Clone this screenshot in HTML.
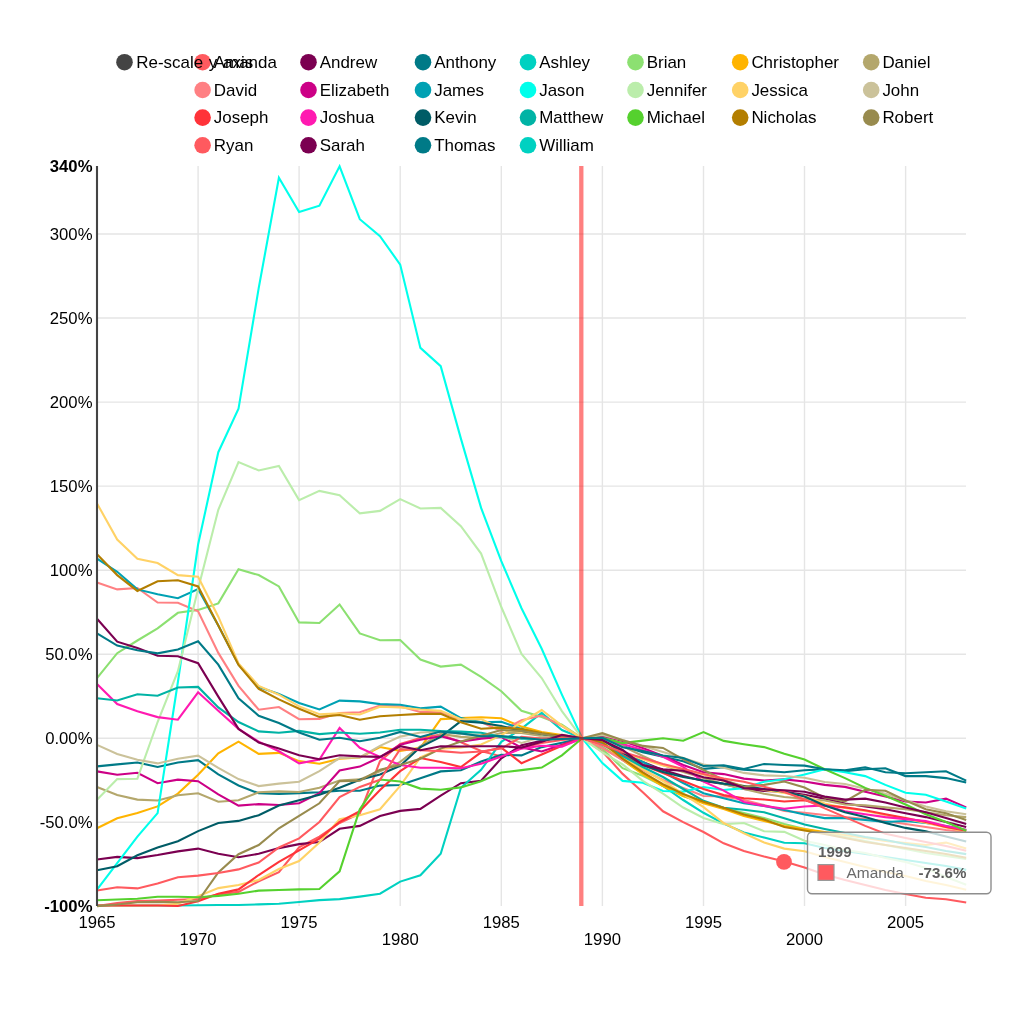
<!DOCTYPE html>
<html><head><meta charset="utf-8"><title>Birth names trend</title>
<style>
html,body{margin:0;padding:0;background:#fff;}
body{width:1024px;height:1024px;overflow:hidden;font-family:"Liberation Sans", Arial, Helvetica, sans-serif;}
svg{display:block;}
svg text{font-family:"Liberation Sans", Arial, Helvetica, sans-serif;}
.ln{fill:none;stroke-width:2.1;stroke-linejoin:miter;stroke-linecap:butt;}
.grid line{stroke:#e5e5e5;stroke-width:1.4;}
.ax text{font-size:16.7px;fill:#000;}
.leg text{font-size:16.95px;fill:#000;}
</style></head><body>
<svg width="1024" height="1024" viewBox="0 0 1024 1024">
<rect width="1024" height="1024" fill="#fff"/>
<g class="grid">
<line x1="198.1" y1="166.1" x2="198.1" y2="906"/>
<line x1="299.1" y1="166.1" x2="299.1" y2="906"/>
<line x1="400.2" y1="166.1" x2="400.2" y2="906"/>
<line x1="501.3" y1="166.1" x2="501.3" y2="906"/>
<line x1="602.4" y1="166.1" x2="602.4" y2="906"/>
<line x1="703.5" y1="166.1" x2="703.5" y2="906"/>
<line x1="804.5" y1="166.1" x2="804.5" y2="906"/>
<line x1="905.6" y1="166.1" x2="905.6" y2="906"/>
<line x1="97" y1="234.0" x2="966" y2="234.0"/>
<line x1="97" y1="318.0" x2="966" y2="318.0"/>
<line x1="97" y1="402.1" x2="966" y2="402.1"/>
<line x1="97" y1="486.1" x2="966" y2="486.1"/>
<line x1="97" y1="570.2" x2="966" y2="570.2"/>
<line x1="97" y1="654.2" x2="966" y2="654.2"/>
<line x1="97" y1="738.3" x2="966" y2="738.3"/>
<line x1="97" y1="822.3" x2="966" y2="822.3"/>
</g>
<g class="lines">
<polyline class="ln" stroke="#ff5a5f" points="97.0,906.0 117.2,903.0 137.4,901.1 157.6,900.6 177.9,899.8 198.1,899.0 218.3,894.4 238.5,891.9 258.7,881.2 278.9,872.2 299.1,847.4 319.4,836.6 339.6,823.0 359.8,813.4 380.0,761.1 400.2,743.9 420.4,738.0 440.7,734.5 460.9,742.2 481.1,750.9 501.3,756.4 521.5,748.0 541.7,743.0 561.9,740.0 582.2,738.3 602.4,751.5 622.6,773.9 642.8,792.3 663.0,811.3 683.2,822.1 703.5,832.0 723.7,843.3 743.9,850.9 764.1,856.6 784.3,861.6 804.5,867.6 824.7,874.5 845.0,880.0 865.2,885.0 885.4,890.0 905.6,894.0 925.8,897.8 946.0,899.2 966.2,902.5"/>
<polyline class="ln" stroke="#7b0051" points="97.0,859.5 117.2,856.9 137.4,858.1 157.6,855.0 177.9,851.4 198.1,848.6 218.3,853.8 238.5,857.2 258.7,853.8 278.9,848.1 299.1,844.1 319.4,842.1 339.6,828.8 359.8,825.9 380.0,816.1 400.2,810.9 420.4,808.9 440.7,795.6 460.9,783.2 481.1,780.8 501.3,758.4 521.5,745.2 541.7,740.8 561.9,737.5 582.2,738.3 602.4,741.0 622.6,753.0 642.8,762.0 663.0,770.0 683.2,776.0 703.5,781.0 723.7,784.0 743.9,789.0 764.1,791.0 784.3,791.8 804.5,794.7 824.7,798.6 845.0,803.5 865.2,806.4 885.4,809.3 905.6,813.2 925.8,817.1 946.0,822.0 966.2,826.9"/>
<polyline class="ln" stroke="#007a87" points="97.0,766.4 117.2,764.4 137.4,762.5 157.6,767.0 177.9,762.5 198.1,760.1 218.3,774.4 238.5,785.5 258.7,793.3 278.9,793.9 299.1,793.1 319.4,792.3 339.6,790.8 359.8,790.8 380.0,785.6 400.2,785.0 420.4,778.3 440.7,771.4 460.9,770.3 481.1,761.5 501.3,754.9 521.5,755.4 541.7,747.1 561.9,742.7 582.2,738.3 602.4,737.0 622.6,746.0 642.8,752.3 663.0,756.7 683.2,761.2 703.5,768.9 723.7,767.1 743.9,769.7 764.1,770.9 784.3,772.2 804.5,770.3 824.7,769.3 845.0,771.2 865.2,769.3 885.4,768.3 905.6,776.1 925.8,776.1 946.0,778.1 966.2,782.6"/>
<polyline class="ln" stroke="#00d1c1" points="97.0,905.5 117.2,905.5 137.4,905.5 157.6,905.5 177.9,905.5 198.1,905.2 218.3,905.0 238.5,905.0 258.7,904.4 278.9,903.8 299.1,902.0 319.4,900.1 339.6,899.1 359.8,896.6 380.0,893.7 400.2,881.6 420.4,875.3 440.7,853.8 460.9,787.8 481.1,769.9 501.3,741.8 521.5,728.6 541.7,712.9 561.9,730.0 582.2,738.3 602.4,746.0 622.6,760.0 642.8,773.0 663.0,786.0 683.2,800.0 703.5,812.8 723.7,823.6 743.9,832.5 764.1,837.6 784.3,842.7 804.5,843.3 824.7,848.0 845.0,851.0 865.2,854.0 885.4,857.0 905.6,860.0 925.8,863.0 946.0,866.0 966.2,869.9"/>
<polyline class="ln" stroke="#8ce071" points="97.0,678.2 117.2,653.2 137.4,640.5 157.6,628.4 177.9,612.8 198.1,609.9 218.3,603.4 238.5,569.3 258.7,575.1 278.9,586.4 299.1,622.4 319.4,623.0 339.6,604.5 359.8,633.4 380.0,640.2 400.2,640.0 420.4,659.5 440.7,666.6 460.9,664.6 481.1,676.8 501.3,691.2 521.5,710.7 541.7,717.1 561.9,724.7 582.2,738.3 602.4,749.1 622.6,768.2 642.8,775.8 663.0,785.9 683.2,796.1 703.5,802.4 723.7,808.0 743.9,813.0 764.1,818.0 784.3,824.0 804.5,829.0 824.7,833.0 845.0,837.0 865.2,841.0 885.4,845.0 905.6,849.0 925.8,853.0 946.0,856.0 966.2,859.0"/>
<polyline class="ln" stroke="#ffb400" points="97.0,828.3 117.2,818.3 137.4,813.1 157.6,806.4 177.9,793.6 198.1,774.8 218.3,753.3 238.5,741.6 258.7,753.9 278.9,752.9 299.1,761.1 319.4,763.8 339.6,758.8 359.8,757.5 380.0,747.0 400.2,750.9 420.4,747.8 440.7,719.1 460.9,718.1 481.1,717.2 501.3,718.3 521.5,726.6 541.7,732.0 561.9,735.0 582.2,738.3 602.4,744.0 622.6,760.0 642.8,774.0 663.0,786.0 683.2,796.0 703.5,803.3 723.7,809.0 743.9,816.0 764.1,821.0 784.3,826.0 804.5,829.0 824.7,832.0 845.0,835.0 865.2,838.0 885.4,841.0 905.6,843.0 925.8,845.0 946.0,842.6 966.2,848.6"/>
<polyline class="ln" stroke="#b4a76c" points="97.0,787.1 117.2,794.9 137.4,799.6 157.6,800.5 177.9,795.3 198.1,793.3 218.3,801.7 238.5,800.2 258.7,792.3 278.9,791.4 299.1,792.0 319.4,787.7 339.6,780.6 359.8,779.4 380.0,771.2 400.2,761.9 420.4,746.2 440.7,733.9 460.9,736.9 481.1,738.0 501.3,733.0 521.5,733.0 541.7,736.0 561.9,737.5 582.2,738.3 602.4,738.0 622.6,746.0 642.8,756.0 663.0,765.0 683.2,772.0 703.5,778.0 723.7,784.3 743.9,789.0 764.1,793.8 784.3,797.0 804.5,798.8 824.7,800.5 845.0,804.5 865.2,805.4 885.4,807.4 905.6,809.3 925.8,812.3 946.0,815.2 966.2,817.1"/>
<polyline class="ln" stroke="#ff8083" points="97.0,582.5 117.2,589.4 137.4,588.0 157.6,602.5 177.9,602.7 198.1,611.2 218.3,652.9 238.5,685.9 258.7,709.7 278.9,707.0 299.1,719.2 319.4,718.9 339.6,713.1 359.8,712.3 380.0,705.6 400.2,706.4 420.4,711.9 440.7,712.3 460.9,719.3 481.1,722.0 501.3,731.0 521.5,720.3 541.7,715.6 561.9,726.1 582.2,738.3 602.4,748.0 622.6,760.0 642.8,770.0 663.0,780.0 683.2,788.0 703.5,796.0 723.7,796.5 743.9,800.0 764.1,805.0 784.3,811.0 804.5,812.7 824.7,815.0 845.0,817.0 865.2,819.0 885.4,821.0 905.6,824.0 925.8,827.0 946.0,830.0 966.2,832.0"/>
<polyline class="ln" stroke="#cc0086" points="97.0,771.4 117.2,774.8 137.4,772.8 157.6,783.2 177.9,779.6 198.1,781.2 218.3,794.3 238.5,805.6 258.7,804.1 278.9,805.0 299.1,803.3 319.4,793.1 339.6,770.5 359.8,766.6 380.0,757.2 400.2,744.7 420.4,739.7 440.7,736.3 460.9,741.6 481.1,738.6 501.3,737.0 521.5,747.6 541.7,751.5 561.9,744.7 582.2,738.3 602.4,736.0 622.6,741.0 642.8,748.0 663.0,756.0 683.2,765.0 703.5,772.2 723.7,774.1 743.9,778.6 764.1,780.5 784.3,779.4 804.5,781.5 824.7,784.9 845.0,786.9 865.2,791.8 885.4,796.6 905.6,801.5 925.8,802.5 946.0,798.6 966.2,807.4"/>
<polyline class="ln" stroke="#00a1b3" points="97.0,558.7 117.2,571.8 137.4,589.4 157.6,594.3 177.9,598.2 198.1,589.0 218.3,625.5 238.5,664.4 258.7,686.9 278.9,693.9 299.1,703.0 319.4,709.5 339.6,700.6 359.8,701.4 380.0,704.1 400.2,704.8 420.4,708.4 440.7,706.6 460.9,718.1 481.1,722.2 501.3,721.7 521.5,729.0 541.7,734.0 561.9,737.0 582.2,738.3 602.4,742.0 622.6,752.0 642.8,762.0 663.0,772.0 683.2,783.0 703.5,793.2 723.7,798.2 743.9,803.3 764.1,805.9 784.3,810.0 804.5,814.5 824.7,818.1 845.0,818.1 865.2,820.0 885.4,822.0 905.6,821.0 925.8,823.0 946.0,826.0 966.2,830.0"/>
<polyline class="ln" stroke="#00ffeb" points="97.0,889.7 117.2,863.1 137.4,836.6 157.6,813.1 177.9,682.0 198.1,544.5 218.3,452.2 238.5,408.8 258.7,288.2 278.9,177.8 299.1,212.1 319.4,205.7 339.6,166.3 359.8,219.2 380.0,236.2 400.2,264.6 420.4,347.9 440.7,366.2 460.9,438.6 481.1,507.9 501.3,561.2 521.5,608.2 541.7,648.8 561.9,694.6 582.2,738.3 602.4,763.1 622.6,780.9 642.8,782.8 663.0,791.0 683.2,791.6 703.5,787.0 723.7,790.0 743.9,788.1 764.1,781.7 784.3,779.2 804.5,774.5 824.7,769.3 845.0,772.2 865.2,776.1 885.4,784.9 905.6,792.7 925.8,794.7 946.0,801.5 966.2,808.4"/>
<polyline class="ln" stroke="#bbedab" points="97.0,799.8 117.2,779.1 137.4,778.7 157.6,722.0 177.9,671.2 198.1,588.9 218.3,509.8 238.5,462.0 258.7,470.4 278.9,465.9 299.1,500.1 319.4,490.9 339.6,495.2 359.8,513.4 380.0,510.9 400.2,499.1 420.4,508.5 440.7,507.9 460.9,526.2 481.1,553.6 501.3,607.0 521.5,653.9 541.7,678.0 561.9,711.1 582.2,738.3 602.4,752.3 622.6,764.4 642.8,780.9 663.0,793.6 683.2,807.5 703.5,818.0 723.7,824.3 743.9,823.0 764.1,831.2 784.3,831.9 804.5,840.8 824.7,845.0 845.0,850.0 865.2,853.0 885.4,858.0 905.6,862.0 925.8,868.0 946.0,877.0 966.2,884.7"/>
<polyline class="ln" stroke="#ffd266" points="97.0,503.4 117.2,539.6 137.4,558.7 157.6,563.0 177.9,575.1 198.1,576.7 218.3,616.7 238.5,663.4 258.7,685.9 278.9,694.7 299.1,706.4 319.4,714.2 339.6,713.4 359.8,714.5 380.0,706.7 400.2,707.5 420.4,709.5 440.7,710.9 460.9,719.3 481.1,719.0 501.3,729.0 521.5,732.0 541.7,733.0 561.9,736.0 582.2,738.3 602.4,742.0 622.6,752.3 642.8,759.3 663.0,765.6 683.2,769.4 703.5,774.5 723.7,781.0 743.9,786.0 764.1,790.0 784.3,793.0 804.5,796.0 824.7,803.5 845.0,808.0 865.2,811.0 885.4,815.0 905.6,819.0 925.8,822.8 946.0,827.5 966.2,831.4"/>
<polyline class="ln" stroke="#ffd266" points="97.0,905.5 117.2,905.5 137.4,905.5 157.6,905.5 177.9,903.8 198.1,896.2 218.3,888.1 238.5,885.0 258.7,880.0 278.9,869.0 299.1,861.1 319.4,842.5 339.6,819.1 359.8,815.2 380.0,809.3 400.2,785.9 420.4,757.3 440.7,748.7 460.9,747.5 481.1,744.5 501.3,735.4 521.5,722.2 541.7,710.0 561.9,725.6 582.2,738.3 602.4,745.0 622.6,757.0 642.8,769.0 663.0,781.0 683.2,794.0 703.5,807.1 723.7,823.0 743.9,833.2 764.1,842.4 784.3,848.6 804.5,851.3 824.7,857.0 845.0,862.0 865.2,867.0 885.4,872.0 905.6,876.0 925.8,881.0 946.0,885.0 966.2,889.8"/>
<polyline class="ln" stroke="#cbc29a" points="97.0,744.9 117.2,753.9 137.4,759.7 157.6,763.4 177.9,758.8 198.1,755.6 218.3,767.9 238.5,779.1 258.7,786.1 278.9,783.6 299.1,781.7 319.4,771.2 339.6,758.0 359.8,757.5 380.0,745.9 400.2,736.6 420.4,732.5 440.7,731.6 460.9,733.9 481.1,735.1 501.3,736.0 521.5,743.0 541.7,737.0 561.9,738.0 582.2,738.3 602.4,735.0 622.6,740.0 642.8,746.0 663.0,752.0 683.2,758.0 703.5,764.6 723.7,767.8 743.9,772.9 764.1,775.4 784.3,776.0 804.5,777.7 824.7,782.0 845.0,784.0 865.2,788.8 885.4,793.7 905.6,800.5 925.8,806.4 946.0,811.3 966.2,814.2"/>
<polyline class="ln" stroke="#ff3339" points="97.0,905.5 117.2,905.5 137.4,905.5 157.6,905.5 177.9,906.0 198.1,901.3 218.3,893.8 238.5,889.4 258.7,875.0 278.9,861.9 299.1,850.3 319.4,838.6 339.6,822.0 359.8,811.1 380.0,790.0 400.2,771.2 420.4,758.0 440.7,761.9 460.9,767.1 481.1,752.3 501.3,747.6 521.5,763.2 541.7,754.5 561.9,745.7 582.2,738.3 602.4,744.0 622.6,755.0 642.8,765.0 663.0,773.0 683.2,781.0 703.5,789.0 723.7,795.1 743.9,798.2 764.1,799.5 784.3,801.5 804.5,800.2 824.7,805.4 845.0,807.4 865.2,810.3 885.4,814.2 905.6,818.1 925.8,822.0 946.0,826.9 966.2,830.8"/>
<polyline class="ln" stroke="#ff1ab1" points="97.0,683.9 117.2,704.1 137.4,711.3 157.6,717.1 177.9,719.7 198.1,692.3 218.3,710.7 238.5,728.9 258.7,741.6 278.9,751.3 299.1,763.4 319.4,759.5 339.6,728.0 359.8,747.8 380.0,756.9 400.2,765.0 420.4,767.8 440.7,767.8 460.9,768.3 481.1,763.8 501.3,756.4 521.5,748.6 541.7,745.7 561.9,746.6 582.2,738.3 602.4,738.0 622.6,744.0 642.8,750.0 663.0,756.7 683.2,766.9 703.5,781.7 723.7,790.6 743.9,802.0 764.1,805.9 784.3,808.7 804.5,806.5 824.7,805.4 845.0,811.3 865.2,814.2 885.4,817.1 905.6,819.1 925.8,821.0 946.0,826.0 966.2,829.8"/>
<polyline class="ln" stroke="#005c66" points="97.0,870.2 117.2,866.2 137.4,855.3 157.6,847.5 177.9,841.2 198.1,831.1 218.3,823.0 238.5,820.9 258.7,815.2 278.9,805.6 299.1,800.2 319.4,794.7 339.6,787.7 359.8,779.8 380.0,774.4 400.2,765.8 420.4,747.0 440.7,736.9 460.9,721.1 481.1,722.8 501.3,726.0 521.5,731.0 541.7,734.0 561.9,736.5 582.2,738.3 602.4,740.0 622.6,752.0 642.8,765.0 663.0,772.0 683.2,777.0 703.5,780.5 723.7,783.6 743.9,786.0 764.1,789.0 784.3,791.8 804.5,796.6 824.7,805.4 845.0,812.3 865.2,817.1 885.4,823.0 905.6,827.9 925.8,831.4 946.0,836.5 966.2,841.5"/>
<polyline class="ln" stroke="#00b3a5" points="97.0,698.2 117.2,700.5 137.4,694.3 157.6,695.7 177.9,687.5 198.1,686.9 218.3,707.4 238.5,722.0 258.7,731.4 278.9,732.8 299.1,730.9 319.4,734.1 339.6,732.5 359.8,733.8 380.0,732.5 400.2,729.8 420.4,729.8 440.7,731.0 460.9,731.6 481.1,732.8 501.3,736.9 521.5,738.8 541.7,738.8 561.9,738.5 582.2,738.3 602.4,744.0 622.6,756.0 642.8,767.0 663.0,777.0 683.2,789.0 703.5,800.8 723.7,807.8 743.9,809.7 764.1,812.2 784.3,818.3 804.5,824.4 824.7,828.9 845.0,833.0 865.2,837.0 885.4,840.0 905.6,844.0 925.8,847.0 946.0,851.0 966.2,854.1"/>
<polyline class="ln" stroke="#55d12e" points="97.0,900.3 117.2,899.5 137.4,898.8 157.6,896.7 177.9,896.7 198.1,897.2 218.3,895.9 238.5,893.8 258.7,890.6 278.9,890.0 299.1,889.4 319.4,889.0 339.6,871.4 359.8,809.3 380.0,779.5 400.2,781.5 420.4,788.6 440.7,789.7 460.9,787.4 481.1,781.3 501.3,772.5 521.5,770.1 541.7,767.6 561.9,755.4 582.2,738.3 602.4,737.7 622.6,743.1 642.8,740.6 663.0,738.2 683.2,740.7 703.5,732.1 723.7,740.9 743.9,744.2 764.1,747.1 784.3,753.7 804.5,759.5 824.7,769.3 845.0,778.1 865.2,787.9 885.4,795.7 905.6,804.5 925.8,814.2 946.0,822.0 966.2,830.8"/>
<polyline class="ln" stroke="#b37e00" points="97.0,554.2 117.2,575.1 137.4,590.9 157.6,581.2 177.9,580.2 198.1,586.4 218.3,625.5 238.5,665.0 258.7,688.8 278.9,699.4 299.1,708.8 319.4,716.9 339.6,715.0 359.8,719.7 380.0,716.2 400.2,715.0 420.4,713.9 440.7,713.8 460.9,722.2 481.1,728.7 501.3,727.6 521.5,729.0 541.7,733.0 561.9,736.0 582.2,738.3 602.4,742.3 622.6,758.6 642.8,772.3 663.0,784.2 683.2,794.0 703.5,801.8 723.7,807.7 743.9,814.5 764.1,819.4 784.3,827.0 804.5,830.5 824.7,834.0 845.0,838.0 865.2,842.0 885.4,845.0 905.6,848.0 925.8,851.0 946.0,854.0 966.2,857.8"/>
<polyline class="ln" stroke="#988b4e" points="97.0,906.1 117.2,904.5 137.4,902.2 157.6,901.9 177.9,902.2 198.1,901.1 218.3,872.5 238.5,854.2 258.7,845.0 278.9,828.3 299.1,815.8 319.4,803.3 339.6,781.1 359.8,780.6 380.0,769.7 400.2,765.0 420.4,758.8 440.7,748.6 460.9,741.6 481.1,735.7 501.3,730.0 521.5,731.0 541.7,734.0 561.9,737.0 582.2,738.3 602.4,733.2 622.6,740.2 642.8,745.9 663.0,747.9 683.2,759.3 703.5,770.0 723.7,780.0 743.9,786.8 764.1,784.9 784.3,781.5 804.5,787.5 824.7,797.6 845.0,801.5 865.2,789.8 885.4,790.8 905.6,800.5 925.8,809.3 946.0,813.2 966.2,820.0"/>
<polyline class="ln" stroke="#ff5a5f" points="97.0,890.5 117.2,887.3 137.4,888.4 157.6,883.4 177.9,877.2 198.1,875.6 218.3,873.0 238.5,869.4 258.7,862.5 278.9,847.5 299.1,838.4 319.4,822.0 339.6,797.0 359.8,786.9 380.0,779.8 400.2,749.1 420.4,750.2 440.7,751.1 460.9,752.8 481.1,751.5 501.3,748.6 521.5,736.9 541.7,738.5 561.9,738.0 582.2,738.3 602.4,745.0 622.6,752.0 642.8,758.0 663.0,764.0 683.2,769.0 703.5,774.0 723.7,778.6 743.9,781.7 764.1,786.8 784.3,791.9 804.5,799.5 824.7,808.4 845.0,817.1 865.2,825.9 885.4,833.8 905.6,838.0 925.8,842.0 946.0,846.0 966.2,850.8"/>
<polyline class="ln" stroke="#7b0051" points="97.0,618.7 117.2,641.7 137.4,648.0 157.6,655.8 177.9,656.2 198.1,663.2 218.3,696.6 238.5,728.9 258.7,742.5 278.9,748.4 299.1,755.3 319.4,759.2 339.6,755.3 359.8,756.4 380.0,756.9 400.2,746.2 420.4,750.2 440.7,746.2 460.9,746.5 481.1,746.2 501.3,746.2 521.5,747.6 541.7,741.8 561.9,734.9 582.2,738.3 602.4,740.0 622.6,750.0 642.8,765.0 663.0,769.4 683.2,770.7 703.5,777.3 723.7,780.5 743.9,788.1 764.1,789.4 784.3,790.2 804.5,791.8 824.7,796.6 845.0,799.6 865.2,798.6 885.4,802.5 905.6,807.4 925.8,812.3 946.0,818.1 966.2,824.0"/>
<polyline class="ln" stroke="#007a87" points="97.0,633.3 117.2,645.6 137.4,650.3 157.6,653.4 177.9,649.5 198.1,641.3 218.3,664.6 238.5,698.2 258.7,715.8 278.9,723.0 299.1,732.5 319.4,739.7 339.6,737.7 359.8,741.2 380.0,737.7 400.2,731.9 420.4,736.9 440.7,731.6 460.9,733.4 481.1,736.3 501.3,736.0 521.5,737.8 541.7,739.8 561.9,739.0 582.2,738.3 602.4,737.7 622.6,747.2 642.8,751.0 663.0,755.5 683.2,758.0 703.5,766.0 723.7,765.2 743.9,769.0 764.1,764.0 784.3,765.0 804.5,765.6 824.7,769.3 845.0,770.3 865.2,767.3 885.4,772.2 905.6,773.2 925.8,772.2 946.0,771.2 966.2,780.6"/>
</g>
<line x1="581.3" y1="166.1" x2="581.3" y2="906" stroke="#ff0000" stroke-opacity="0.5" stroke-width="4.3"/>
<line x1="97" y1="166" x2="97" y2="906" stroke="#444" stroke-width="2.1"/>
<g class="ax">
<text x="92.5" y="172.0" text-anchor="end" font-weight="bold">340%</text>
<text x="92.5" y="239.9" text-anchor="end">300%</text>
<text x="92.5" y="323.9" text-anchor="end">250%</text>
<text x="92.5" y="408.0" text-anchor="end">200%</text>
<text x="92.5" y="492.0" text-anchor="end">150%</text>
<text x="92.5" y="576.1" text-anchor="end">100%</text>
<text x="92.5" y="660.1" text-anchor="end">50.0%</text>
<text x="92.5" y="744.2" text-anchor="end">0.00%</text>
<text x="92.5" y="828.2" text-anchor="end">-50.0%</text>
<text x="92.5" y="911.9" text-anchor="end" font-weight="bold">-100%</text>
<text x="97.0" y="927.6" text-anchor="middle">1965</text>
<text x="198.1" y="944.8" text-anchor="middle">1970</text>
<text x="299.1" y="927.6" text-anchor="middle">1975</text>
<text x="400.2" y="944.8" text-anchor="middle">1980</text>
<text x="501.3" y="927.6" text-anchor="middle">1985</text>
<text x="602.4" y="944.8" text-anchor="middle">1990</text>
<text x="703.5" y="927.6" text-anchor="middle">1995</text>
<text x="804.5" y="944.8" text-anchor="middle">2000</text>
<text x="905.6" y="927.6" text-anchor="middle">2005</text>
</g>
<g class="leg">
<circle cx="202.6" cy="62.2" r="8.3" fill="#ff5a5f"/><text x="213.8" y="68.0">Amanda</text>
<circle cx="308.5" cy="62.2" r="8.3" fill="#7b0051"/><text x="319.7" y="68.0">Andrew</text>
<circle cx="423.0" cy="62.2" r="8.3" fill="#007A87"/><text x="434.2" y="68.0">Anthony</text>
<circle cx="528.0" cy="62.2" r="8.3" fill="#00d1c1"/><text x="539.2" y="68.0">Ashley</text>
<circle cx="635.5" cy="62.2" r="8.3" fill="#8ce071"/><text x="646.7" y="68.0">Brian</text>
<circle cx="740.2" cy="62.2" r="8.3" fill="#ffb400"/><text x="751.4" y="68.0">Christopher</text>
<circle cx="871.2" cy="62.2" r="8.3" fill="#b4a76c"/><text x="882.4" y="68.0">Daniel</text>
<circle cx="202.6" cy="90.0" r="8.3" fill="#ff8083"/><text x="213.8" y="95.8">David</text>
<circle cx="308.5" cy="90.0" r="8.3" fill="#cc0086"/><text x="319.7" y="95.8">Elizabeth</text>
<circle cx="423.0" cy="90.0" r="8.3" fill="#00a1b3"/><text x="434.2" y="95.8">James</text>
<circle cx="528.0" cy="90.0" r="8.3" fill="#00ffeb"/><text x="539.2" y="95.8">Jason</text>
<circle cx="635.5" cy="90.0" r="8.3" fill="#bbedab"/><text x="646.7" y="95.8">Jennifer</text>
<circle cx="740.2" cy="90.0" r="8.3" fill="#ffd266"/><text x="751.4" y="95.8">Jessica</text>
<circle cx="871.2" cy="90.0" r="8.3" fill="#cbc29a"/><text x="882.4" y="95.8">John</text>
<circle cx="202.6" cy="117.6" r="8.3" fill="#ff3339"/><text x="213.8" y="123.4">Joseph</text>
<circle cx="308.5" cy="117.6" r="8.3" fill="#ff1ab1"/><text x="319.7" y="123.4">Joshua</text>
<circle cx="423.0" cy="117.6" r="8.3" fill="#005c66"/><text x="434.2" y="123.4">Kevin</text>
<circle cx="528.0" cy="117.6" r="8.3" fill="#00b3a5"/><text x="539.2" y="123.4">Matthew</text>
<circle cx="635.5" cy="117.6" r="8.3" fill="#55d12e"/><text x="646.7" y="123.4">Michael</text>
<circle cx="740.2" cy="117.6" r="8.3" fill="#b37e00"/><text x="751.4" y="123.4">Nicholas</text>
<circle cx="871.2" cy="117.6" r="8.3" fill="#988b4e"/><text x="882.4" y="123.4">Robert</text>
<circle cx="202.6" cy="145.3" r="8.3" fill="#ff5a5f"/><text x="213.8" y="151.1">Ryan</text>
<circle cx="308.5" cy="145.3" r="8.3" fill="#7b0051"/><text x="319.7" y="151.1">Sarah</text>
<circle cx="423.0" cy="145.3" r="8.3" fill="#007A87"/><text x="434.2" y="151.1">Thomas</text>
<circle cx="528.0" cy="145.3" r="8.3" fill="#00d1c1"/><text x="539.2" y="151.1">William</text>
<circle cx="124.5" cy="62.2" r="8.3" fill="#444"/><text x="136.3" y="68" word-spacing="1.0">Re-scale y axis</text>
</g>
<circle cx="784.0" cy="861.9" r="7.9" fill="#ff5a5f"/>
<g class="tip">
<rect x="807.5" y="832.2" width="183.5" height="61.6" rx="4.5" ry="4.5" fill="#fff" fill-opacity="0.76" stroke="#8e8e8e" stroke-width="1.4"/>
<text x="818" y="857.2" font-size="15.1" font-weight="bold" fill="#5e5e5e">1999</text>
<rect x="818" y="864.6" width="16" height="15.8" fill="#ff5a5f" stroke="#999" stroke-width="1.2"/>
<text x="846.6" y="878.2" font-size="15.4" fill="#6a6a6a">Amanda</text>
<text x="966.4" y="878.2" font-size="15.1" font-weight="bold" text-anchor="end" fill="#5e5e5e">-73.6%</text>
</g>
</svg>
</body></html>
